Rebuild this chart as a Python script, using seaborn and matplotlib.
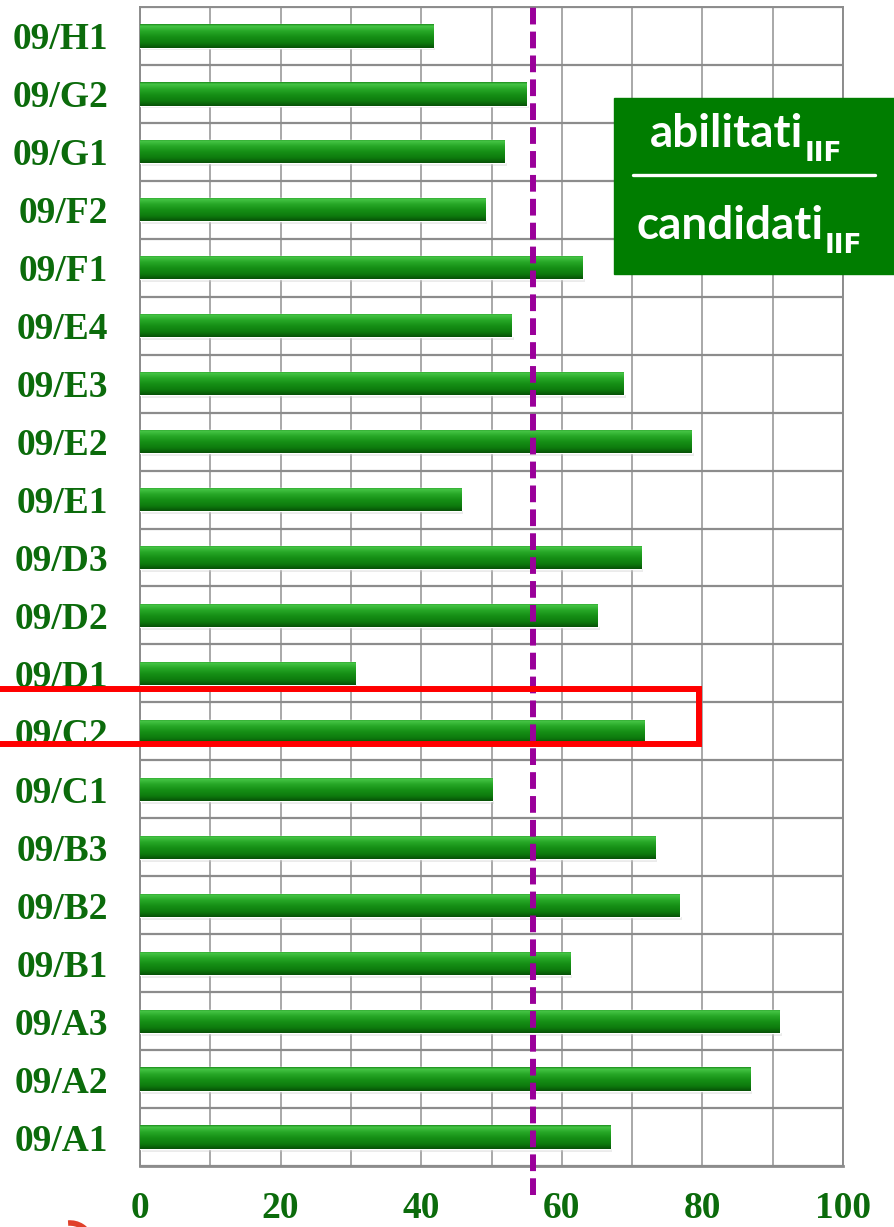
import numpy as np
import pandas as pd
import matplotlib
matplotlib.use('Agg')
import matplotlib.pyplot as plt
import seaborn as sns
from matplotlib.patches import Rectangle, Arc
from matplotlib.lines import Line2D
from matplotlib.text import Annotation
from matplotlib.colors import LinearSegmentedColormap
from matplotlib.transforms import IdentityTransform

# settori concorsuali, dall'alto verso il basso
settori = ['09/H1', '09/G2', '09/G1', '09/F2', '09/F1', '09/E4', '09/E3', '09/E2',
           '09/E1', '09/D3', '09/D2', '09/D1', '09/C2', '09/C1', '09/B3', '09/B2',
           '09/B1', '09/A3', '09/A2', '09/A1']
# abilitati / candidati (%)
percentuale = [41.7, 55.0, 51.9, 49.1, 63.0, 52.9, 68.8, 78.5,
               45.7, 71.3, 65.1, 30.6, 71.7, 50.1, 73.3, 76.8,
               61.2, 91.0, 86.8, 66.9]
media = 55.9
evidenziato = '09/C2'

df = pd.DataFrame({'settore': settori, 'perc': percentuale})

sns.set_style('white')
plt.rcParams['font.family'] = ['Liberation Serif', 'DejaVu Serif']
plt.rcParams['font.weight'] = 'bold'

verde_testo = '#0b6b0b'

fig = plt.figure(figsize=(8.94, 12.27), dpi=100)
ax = fig.add_axes([140/894, 61/1227, 703/894, 1159/1227])

sns.barplot(data=df, x='perc', y='settore', orient='h', width=0.4,
            color='#138c13', saturation=1, ax=ax, zorder=3)

# sfumatura "3D" dentro ogni barra
cmap = LinearSegmentedColormap.from_list(
    'barra', [(0, '#1f8f1f'), (0.08, '#45c545'), (0.3, '#26a626'),
              (0.55, '#158e15'), (0.8, '#0d7a0d'), (1, '#075207')])
grad = np.linspace(0, 1, 64).reshape(-1, 1)
for p in ax.patches:
    x0, y0, w, h = p.get_x(), p.get_y(), p.get_width(), p.get_height()
    im = ax.imshow(grad, cmap=cmap, aspect='auto', origin='upper',
                   extent=[x0, x0 + w, y0 + h, y0], zorder=4)
    im.set_clip_path(p)
    # ombra leggera sotto la barra
    ax.add_patch(Rectangle((x0 + 0.3, y0 + h), w, 0.05, color='#c8c8c8',
                           alpha=0.35, lw=0, zorder=2))

ax.set_xlim(0, 100)
ax.set_ylim(len(settori) - 0.5, -0.5)

# griglia
ax.set_xticks(range(0, 101, 20))
ax.set_xticks(range(10, 100, 20), minor=True)
ax.set_yticks(np.arange(-0.5, len(settori), 1), labels=[''] * (len(settori) + 1))
ax.set_yticks(np.arange(len(settori)), labels=settori, minor=True)
ax.grid(axis='x', which='both', color='#a8a8a8', lw=1.4, zorder=0)
ax.grid(axis='y', which='major', color='#8c8c8c', lw=1.6, zorder=0)

ax.tick_params(axis='y', which='major', length=8.6, width=1.4, color='#8c8c8c')
ax.tick_params(axis='y', which='minor', length=0, pad=23, labelsize=27,
               labelcolor=verde_testo)
ax.tick_params(axis='x', which='major', length=7, width=1.4, color='#8c8c8c',
               pad=11, labelsize=27, labelcolor=verde_testo)
ax.tick_params(axis='x', which='minor', length=0)
ax.set_xlabel('')
ax.set_ylabel('')

for s in ['left', 'top', 'right']:
    ax.spines[s].set_color('#8c8c8c')
    ax.spines[s].set_linewidth(1.4)
ax.spines['bottom'].set_color('#8c8c8c')
ax.spines['bottom'].set_linewidth(2)

# media
ax.axvline(media, ymin=-0.025, ymax=1.0, color='#9a009a', lw=4.3,
           dashes=(2.8, 1.2), clip_on=False, zorder=5)

# evidenzia il settore
i = settori.index(evidenziato)
ax.add_patch(Rectangle((-25, i - 0.73), 79.5 + 25, 0.95, fill=False,
                       ec='#ff0000', lw=4.3, clip_on=False, zorder=6))

# riquadro con la formula
fig.add_artist(Rectangle((614/894, 1 - 274/1227), 281/894, 176/1227,
                         transform=fig.transFigure, color='#007d00', zorder=10))
fig.add_artist(Line2D([633/894, 875/894], [1 - 175/1227] * 2,
                      transform=fig.transFigure, color='white', lw=2.4, zorder=11))
for testo, xx, yy in [('abilitati', 650, 147), ('candidati', 636, 239)]:
    t = fig.text(xx/894, 1 - yy/1227, testo, color='white', fontsize=33,
                 fontfamily='Lato', fontweight='bold', ha='left',
                 va='baseline', zorder=12)
    sub = Annotation('IIF', xy=(1, 0), xycoords=t, xytext=(1, 1),
                     textcoords='offset points', color='white', fontsize=19,
                     fontfamily='DejaVu Sans', fontweight='bold', ha='left',
                     va='center', zorder=13)
    fig.add_artist(sub)

# pezzo di logo in basso a sinistra
fig.add_artist(Arc((70, -18), 44, 44, theta1=20, theta2=95, color='#e0402a',
                   lw=4, transform=IdentityTransform()))

fig.savefig('out.png', dpi=100)
